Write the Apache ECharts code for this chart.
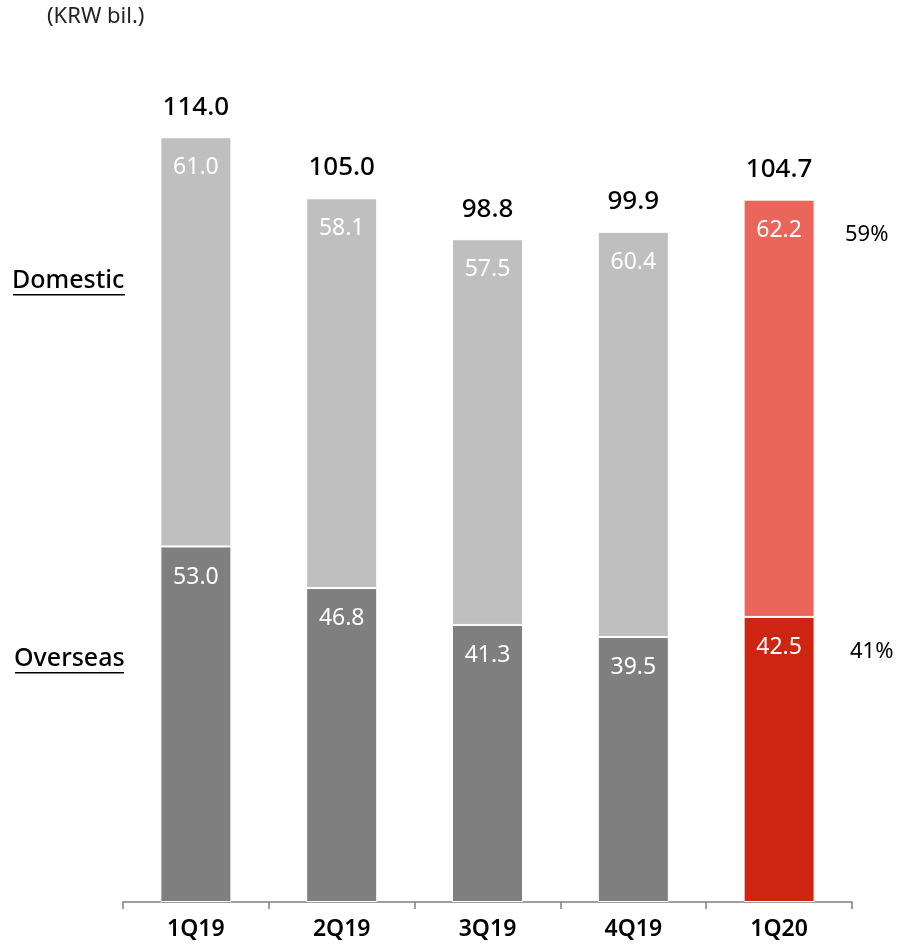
<!DOCTYPE html>
<html><head><meta charset="utf-8">
<script src="https://cdn.jsdelivr.net/npm/echarts@6/dist/echarts.min.js"></script>
<style>html,body{margin:0;padding:0;background:#fff}#c{width:898px;height:946px}</style>
</head><body><div id="c"></div>
<script>
const categories = ['1Q19','2Q19','3Q19','4Q19','1Q20'];
const overseas = [53.0, 46.8, 41.3, 39.5, 42.5];
const domestic = [61.0, 58.1, 57.5, 60.4, 62.2];
const totals = [114.0, 105.0, 98.8, 99.9, 104.7];
const shares = ['59%', '41%'];
const unitLabel = '(KRW bil.)';

const FONT = '"Noto Sans", "Open Sans", sans-serif';
const chart = echarts.init(document.getElementById('c'));
const last = categories.length - 1;
chart.setOption({
  animation: false,
  grid: {left: 123, right: 46, bottom: 44, top: 97},
  xAxis: {
    type: 'category', data: categories,
    axisLine: {lineStyle: {color: '#7f7f7f', width: 1.5}},
    axisTick: {show: true, length: 7, lineStyle: {color: '#7f7f7f', width: 1.5}},
    axisLabel: {color: '#000', fontSize: 23, fontWeight: 600, fontFamily: FONT, margin: 16}
  },
  yAxis: {type: 'value', min: 0, max: 120, show: false, splitLine: {show: false}},
  series: [
    {
      type: 'bar', stack: 's', barWidth: 71,
      data: overseas.map((v, i) => ({value: v, itemStyle: {color: i === last ? '#cd2511' : '#7f7f7f'}})),
      itemStyle: {borderColor: '#fff', borderWidth: 1},
      label: {show: true, position: 'insideTop', distance: 19, color: '#fff', fontSize: 23, fontFamily: FONT,
        formatter: p => p.value.toFixed(1)}
    },
    {
      type: 'bar', stack: 's', barWidth: 71,
      data: domestic.map((v, i) => ({value: v, itemStyle: {color: i === last ? '#ea665b' : '#bfbfbf'}})),
      itemStyle: {borderColor: '#fff', borderWidth: 1},
      label: {show: true, position: 'insideTop', distance: 19, color: '#fff', fontSize: 23, fontFamily: FONT,
        formatter: p => p.value.toFixed(1)}
    },
    {
      type: 'bar', barWidth: 71, barGap: '-100%', z: 1,
      data: totals,
      itemStyle: {color: 'rgba(0,0,0,0)'},
      label: {show: true, position: 'top', distance: 17, color: '#000', fontSize: 26, fontWeight: 500, fontFamily: FONT,
        formatter: p => p.value.toFixed(1)}
    }
  ],
  graphic: [
    {type: 'text', left: 47, top: 6, style: {text: unitLabel, font: '22px "Noto Sans", sans-serif', fill: '#222'}},
    {type: 'text', left: 12, top: 268, style: {text: 'Domestic', font: '500 25px "Noto Sans", sans-serif', fill: '#000'}},
    {type: 'rect', shape: {x: 13, y: 294, width: 112, height: 1.6}, style: {fill: '#000'}},
    {type: 'text', left: 14, top: 646, style: {text: 'Overseas', font: '500 25px "Noto Sans", sans-serif', fill: '#000'}},
    {type: 'rect', shape: {x: 15, y: 672, width: 109, height: 1.6}, style: {fill: '#000'}},
    {type: 'text', left: 845, top: 224, style: {text: shares[0], font: '22px "Noto Sans", sans-serif', fill: '#000'}},
    {type: 'text', left: 850, top: 641, style: {text: shares[1], font: '22px "Noto Sans", sans-serif', fill: '#000'}}
  ]
});
</script></body></html>
